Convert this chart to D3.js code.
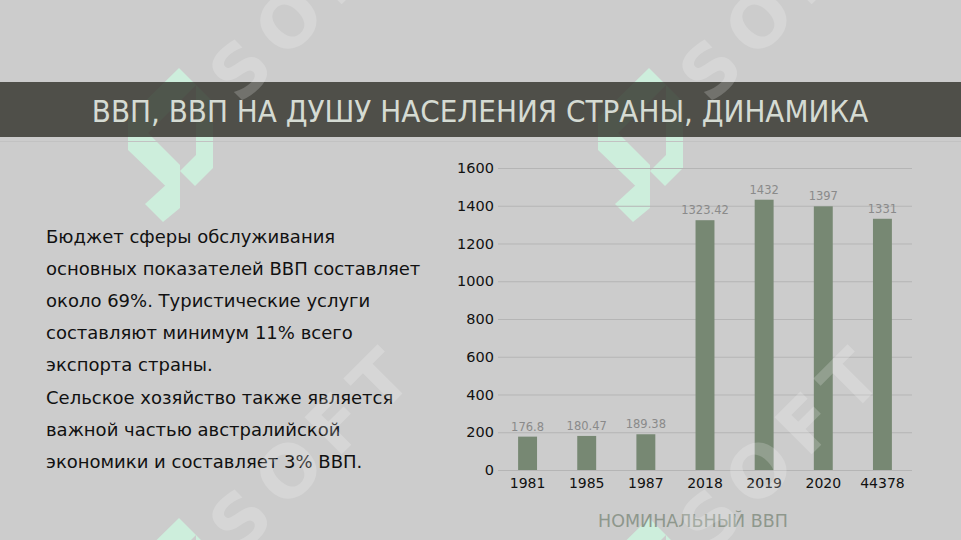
<!DOCTYPE html>
<html><head><meta charset="utf-8">
<script src="https://cdn.jsdelivr.net/npm/d3@7"></script>
<style>html,body{margin:0;padding:0;background:#cccccc;}svg{display:block;}</style>
</head><body>
<script>
const categories = ["1981","1985","1987","2018","2019","2020","44378"];
const values = [176.8, 180.47, 189.38, 1323.42, 1432, 1397, 1331];
const valueLabels = ["176.8","180.47","189.38","1323.42","1432","1397","1331"];
const yTicks = [0,200,400,600,800,1000,1200,1400,1600];
const titleText = "ВВП, ВВП НА ДУШУ НАСЕЛЕНИЯ СТРАНЫ, ДИНАМИКА";
const axisTitle = "НОМИНАЛЬНЫЙ ВВП";
const bodyLines = ["Бюджет сферы обслуживания","основных показателей ВВП составляет","около 69%. Туристические услуги","составляют минимум 11% всего","экспорта страны.","Сельское хозяйство также является","важной частью австралийской","экономики и составляет 3% ВВП."];
const watermarkText = "SOFT";

const W = 961, H = 540;
const svg = d3.select("body").append("svg").attr("width", W).attr("height", H);
svg.append("rect").attr("width", W).attr("height", H).attr("fill", "#cccccc");

// watermark logos (decorative)
const tiles = [[0,0],[470,0],[0,450],[470,450]];
const logoPolys = [
  [[179,68],[196,85],[148,133],[180,165],[180,200],[128,150],[128,118]],
  [[196,85],[213,102],[213,168],[195,186],[180,171],[196,155]],
  [[180,172],[180,208],[163,222],[145,204]]
];
const logoG = svg.append("g");
tiles.forEach(([tx,ty])=>{
  logoG.append("g").attr("transform",`translate(${tx},${ty})`)
    .selectAll("polygon").data(logoPolys).join("polygon")
    .attr("points",d=>d.map(p=>p.join(",")).join(" "))
    .attr("fill","#cdeedc");
});

// title band
svg.append("rect").attr("x",0).attr("y",82).attr("width",W).attr("height",55)
  .attr("fill","#2c2b24").attr("fill-opacity",0.78);
svg.append("line").attr("x1",0).attr("x2",W).attr("y1",141.5).attr("y2",141.5)
  .attr("stroke","#c2c2c2").attr("stroke-width",1);
svg.append("text").attr("x",480).attr("y",122).attr("text-anchor","middle")
  .attr("font-family","DejaVu Sans Condensed, DejaVu Sans").attr("font-size",31)
  .attr("fill","#d5dbd3").text(titleText);

// body text
svg.append("g").selectAll("text").data(bodyLines).join("text")
  .attr("x",46).attr("y",(d,i)=>243+i*32.1)
  .attr("font-family","DejaVu Sans").attr("font-size",18).attr("fill","#111")
  .text(d=>d);

// chart
const x = d3.scaleBand().domain(categories).range([498,912]).paddingInner(0.68).paddingOuter(0.34);
const y = d3.scaleLinear().domain([0,1600]).range([470,168]);

svg.append("g").selectAll("line").data(yTicks).join("line")
  .attr("x1",498).attr("x2",912).attr("y1",d=>y(d)+0.5).attr("y2",d=>y(d)+0.5)
  .attr("stroke","#b5b5b5").attr("stroke-width",1);

const yAxis = svg.append("g").attr("transform","translate(498,0)")
  .call(d3.axisLeft(y).tickValues(yTicks).tickFormat(d3.format("d")).tickSize(0).tickPadding(4));
yAxis.select(".domain").remove();
yAxis.selectAll("text").attr("font-family","DejaVu Sans").attr("font-size",14.5).attr("fill","#111");

const xAxis = svg.append("g").attr("transform","translate(0,470)")
  .call(d3.axisBottom(x).tickSize(0).tickPadding(8));
xAxis.select(".domain").remove();
xAxis.selectAll("text").attr("font-family","DejaVu Sans").attr("font-size",14).attr("fill","#111");

svg.append("g").selectAll("rect").data(values).join("rect")
  .attr("x",(d,i)=>x(categories[i])).attr("width",x.bandwidth())
  .attr("y",d=>y(d)).attr("height",d=>470-y(d)).attr("fill","#778873");

svg.append("g").selectAll("text").data(values).join("text")
  .attr("x",(d,i)=>x(categories[i])+x.bandwidth()/2).attr("y",d=>y(d)-6)
  .attr("text-anchor","middle").attr("font-family","DejaVu Sans").attr("font-size",11.5)
  .attr("fill","#8a8a8a").text((d,i)=>valueLabels[i]);

svg.append("text").attr("x",693).attr("y",527).attr("text-anchor","middle")
  .attr("font-family","DejaVu Sans").attr("font-size",17.5).attr("fill","#8e978c")
  .text(axisTitle);

// SOFT watermark text (decorative)
const wmG = svg.append("g").attr("pointer-events","none");
tiles.forEach(([tx,ty])=>{
  wmG.append("text").attr("transform",`translate(${tx+240},${ty+106}) rotate(-45)`)
    .attr("font-family","DejaVu Sans").attr("font-weight","bold").attr("font-size",72)
    .attr("letter-spacing",12)
    .attr("fill","#ffffff").attr("fill-opacity",0.2).text(watermarkText);
});
</script>
</body></html>
